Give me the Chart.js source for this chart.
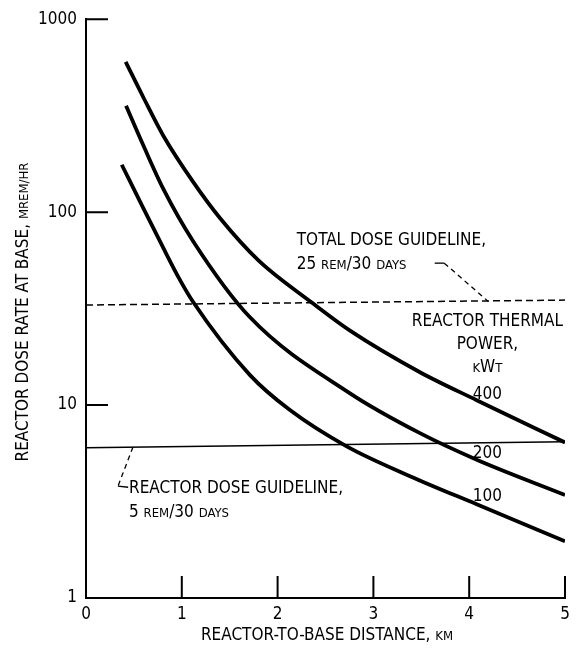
<!DOCTYPE html>
<html>
<head>
<meta charset="utf-8">
<script src="https://cdn.jsdelivr.net/npm/chart.js@4.4.0/dist/chart.umd.min.js"></script>
<style>
html, body { margin: 0; padding: 0; background: #fff; }
</style>
</head>
<body>
<canvas id="doseChart" width="577" height="648"></canvas>
<script>
// valores (distancia em km, taxa de dose em mrem/hr)
const dist400 = [0.414, 0.598, 0.807, 1.12, 1.40, 1.80, 2.356, 2.756, 3.486, 4.078, 5.0];
const dose400 = [601, 394, 249, 143, 92.9, 56.2, 34.0, 24.3, 14.8, 10.6, 6.4];
const dist200 = [0.418, 0.598, 0.807, 1.12, 1.712, 2.756, 3.486, 4.078, 5.0];
const dose200 = [356, 222, 132, 70.5, 28.5, 11.5, 7.15, 5.21, 3.42];
const dist100 = [0.373, 0.598, 0.807, 0.963, 1.117, 1.712, 2.129, 2.721, 3.382, 4.078, 5.0];
const dose100 = [176, 105, 65.2, 46.2, 34.3, 14.3, 9.42, 6.11, 4.28, 3.06, 1.97];

const guideDist = [0, 5];
const totalGuide = [33, 35];     // 25 rem/30 days
const reactorGuide = [6.0, 6.45]; // 5 rem/30 days

const xTicks = [0, 1, 2, 3, 4, 5];
const yTicks = [1, 10, 100, 1000];

const FONT = "'DejaVu Sans Condensed', 'Liberation Sans Narrow', sans-serif";
const BIG = 17;
const SMALL = 13;

function toPoints(xs, ys) {
    return xs.map((x, i) => ({ x: x, y: ys[i] }));
}

function curve(xs, ys) {
    return {
        data: toPoints(xs, ys),
        borderColor: '#000',
        borderWidth: 3.8,
        pointRadius: 0,
        cubicInterpolationMode: 'monotone',
        fill: false
    };
}

// desenha texto com partes em "small caps" (tamanho menor)
function drawParts(ctx, parts, x, y, align) {
    let total = 0;
    parts.forEach(p => {
        ctx.font = p[1] + 'px ' + FONT;
        total += ctx.measureText(p[0]).width;
    });
    let cx = x;
    if (align === 'center') cx = x - total / 2;
    if (align === 'right') cx = x - total;
    ctx.textAlign = 'left';
    ctx.textBaseline = 'alphabetic';
    parts.forEach(p => {
        ctx.font = p[1] + 'px ' + FONT;
        ctx.fillText(p[0], cx, y);
        cx += ctx.measureText(p[0]).width;
    });
}

const extras = {
    id: 'extras',
    afterDraw(chart) {
        const ctx = chart.ctx;
        const sx = chart.scales.x;
        const sy = chart.scales.y;
        const area = chart.chartArea;
        const px = v => sx.getPixelForValue(v);
        const py = v => sy.getPixelForValue(v);

        ctx.save();
        ctx.strokeStyle = '#000';
        ctx.fillStyle = '#000';

        // marcas dos eixos, para dentro
        ctx.lineWidth = 2;
        ctx.beginPath();
        xTicks.slice(1).forEach(v => {
            ctx.moveTo(px(v), area.bottom);
            ctx.lineTo(px(v), area.bottom - 22);
        });
        yTicks.slice(1).forEach(v => {
            ctx.moveTo(area.left, py(v));
            ctx.lineTo(area.left + 22, py(v));
        });
        ctx.stroke();

        // titulos dos eixos
        drawParts(ctx, [['REACTOR-TO-BASE DISTANCE, ', BIG], ['KM', SMALL]], 327, 640, 'center');
        ctx.save();
        ctx.translate(28, 312);
        ctx.rotate(-Math.PI / 2);
        drawParts(ctx, [['REACTOR DOSE RATE AT BASE, ', BIG], ['MREM/HR', SMALL]], 0, 0, 'center');
        ctx.restore();

        // anotacao: guia de dose total
        drawParts(ctx, [['TOTAL DOSE GUIDELINE,', BIG]], px(2.2), py(67.3), 'left');
        drawParts(ctx, [['25 ', BIG], ['REM', SMALL], ['/30 ', BIG], ['DAYS', SMALL]], px(2.2), py(50.6), 'left');
        ctx.lineWidth = 1.3;
        ctx.beginPath();
        ctx.moveTo(px(3.64), py(54.4));
        ctx.lineTo(px(3.74), py(54.4));
        ctx.stroke();
        ctx.setLineDash([5, 4]);
        ctx.beginPath();
        ctx.moveTo(px(3.74), py(54.4));
        ctx.lineTo(px(4.2), py(34.4));
        ctx.stroke();
        ctx.setLineDash([]);

        // anotacao: guia de dose do reator
        drawParts(ctx, [['REACTOR DOSE GUIDELINE,', BIG]], px(0.449), py(3.49), 'left');
        drawParts(ctx, [['5 ', BIG], ['REM', SMALL], ['/30 ', BIG], ['DAYS', SMALL]], px(0.449), py(2.62), 'left');
        ctx.setLineDash([5, 4]);
        ctx.beginPath();
        ctx.moveTo(px(0.49), py(6.05));
        ctx.lineTo(px(0.334), py(3.8));
        ctx.stroke();
        ctx.setLineDash([]);
        ctx.beginPath();
        ctx.moveTo(px(0.334), py(3.8));
        ctx.lineTo(px(0.44), py(3.75));
        ctx.stroke();

        // rotulos das curvas
        const cx = px(4.19);
        drawParts(ctx, [['REACTOR THERMAL', BIG]], cx, py(25.8), 'center');
        drawParts(ctx, [['POWER,', BIG]], cx, py(19.6), 'center');
        drawParts(ctx, [['K', SMALL], ['W', BIG], ['T', SMALL]], cx, py(14.8), 'center');
        drawParts(ctx, [['400', BIG]], cx, py(10.7), 'center');
        drawParts(ctx, [['200', BIG]], cx, py(5.34), 'center');
        drawParts(ctx, [['100', BIG]], cx, py(3.17), 'center');

        ctx.restore();
    }
};

const ctx = document.getElementById('doseChart').getContext('2d');
const doseChart = new Chart(ctx, {
    type: 'line',
    data: {
        datasets: [
            curve(dist400, dose400),
            curve(dist200, dose200),
            curve(dist100, dose100),
            {
                data: toPoints(guideDist, totalGuide),
                borderColor: '#000',
                borderWidth: 1.5,
                borderDash: [7, 4],
                pointRadius: 0
            },
            {
                data: toPoints(guideDist, reactorGuide),
                borderColor: '#000',
                borderWidth: 1.5,
                pointRadius: 0
            }
        ]
    },
    options: {
        responsive: false,
        animation: false,
        layout: { padding: { top: 15, right: 12, left: 0, bottom: 0 } },
        plugins: {
            legend: { display: false },
            tooltip: { enabled: false }
        },
        scales: {
            x: {
                type: 'linear',
                min: 0,
                max: 5,
                afterFit: s => { s.height = 50; },
                afterBuildTicks: s => { s.ticks = xTicks.map(v => ({ value: v })); },
                grid: { display: true, drawOnChartArea: false, drawTicks: false },
                border: { display: true, color: '#000', width: 2 },
                ticks: {
                    color: '#000',
                    padding: 6,
                    font: { family: FONT, size: BIG },
                    callback: v => String(v)
                }
            },
            y: {
                type: 'logarithmic',
                min: 1,
                max: 1000,
                afterFit: s => { s.width = 86; },
                afterBuildTicks: s => { s.ticks = yTicks.map(v => ({ value: v })); },
                grid: { display: true, drawOnChartArea: false, drawTicks: false },
                border: { display: true, color: '#000', width: 2 },
                ticks: {
                    color: '#000',
                    padding: 9,
                    font: { family: FONT, size: BIG },
                    callback: v => String(v)
                }
            }
        }
    },
    plugins: [extras]
});
</script>
</body>
</html>
